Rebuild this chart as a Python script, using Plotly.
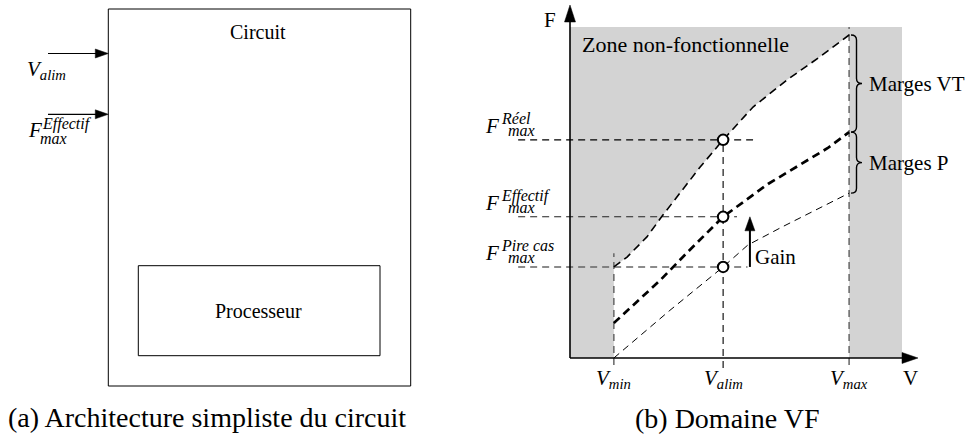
import plotly.graph_objects as go

W, H = 966, 435
SERIF = "Liberation Serif"

# ---------------- data: VF domain (arbitrary units) ----------------
V_NAMES = ["min", "alim", "max"]
V_VALUES = [1.26, 4.40, 8.02]
V_MIN, V_ALIM, V_MAX = V_VALUES

reel_V = [1.26, 1.64, 2.21, 2.67, 3.74, 4.40, 5.26, 6.24, 7.18, 8.02]
reel_F = [2.58, 2.86, 3.43, 4.05, 5.41, 6.18, 7.11, 7.88, 8.53, 9.15]
eff_V = [1.26, 2.59, 3.36, 4.40, 5.69, 6.55, 7.41, 8.02]
eff_F = [0.99, 2.20, 2.98, 4.00, 4.93, 5.44, 5.95, 6.40]
pire_V = [1.26, 2.87, 4.40, 5.11, 6.09, 7.04, 8.02]
pire_F = [0.00, 1.35, 2.58, 3.20, 3.71, 4.19, 4.67]

FMAX_NAMES = ["Réel", "Effectif", "Pire cas"]
FMAX_VALUES = [6.18, 4.00, 2.58]

AXIS_V_END, AXIS_F_END = 10.0, 10.0
ZONE_V_END, ZONE_F_END = 9.54, 9.38
GAIN_V = 5.17

# ---------------- layout helpers ----------------
OX, OY, SX, SY = 570, 358, 34.8, 35.3   # right panel origin (px) and px per unit


def px_x(v):
    return OX + v * SX


def px_y(f):
    return OY - f * SY


def P(x, y):
    return x / W, 1 - y / H


fig = go.Figure()
shapes = []
anns = []


def tri(tipx, tipy, dx, dy, L, hw):
    bx, by = tipx - dx * L, tipy - dy * L
    nx, ny = -dy, dx
    pts = [(tipx, tipy), (bx + nx * hw, by + ny * hw), (bx - nx * hw, by - ny * hw)]
    path = "M" + " L".join("%.5f,%.5f" % P(x, y) for x, y in pts) + " Z"
    shapes.append(dict(type="path", path=path, xref="paper", yref="paper",
                       fillcolor="black", line=dict(color="black", width=0.5), layer="above"))


def brace(x, y0, y1, w=5.5, r=5):
    ym = (y0 + y1) / 2
    seq = [("M", [(x, y0)]), ("Q", [(x + w, y0), (x + w, y0 + r)]), ("L", [(x + w, ym - r)]),
           ("Q", [(x + w, ym), (x + 2 * w, ym)]), ("Q", [(x + w, ym), (x + w, ym + r)]),
           ("L", [(x + w, y1 - r)]), ("Q", [(x + w, y1), (x, y1)])]
    path = " ".join(c + " ".join("%.5f,%.5f" % P(a, b) for a, b in pts) for c, pts in seq)
    shapes.append(dict(type="path", path=path, xref="paper", yref="paper",
                       line=dict(color="black", width=1.4), layer="above"))


def text(x, y, t, size, xanchor="left", color="black"):
    px_, py_ = P(x, y)
    anns.append(dict(x=px_, y=py_, xref="paper", yref="paper", text=t, showarrow=False,
                     xanchor=xanchor, yanchor="middle",
                     font=dict(family=SERIF, size=size, color=color)))


def rect(x0, y0, x1, y1):
    a, b = P(x0, y0)
    c, d = P(x1, y1)
    shapes.append(dict(type="rect", x0=a, y0=d, x1=c, y1=b, xref="paper", yref="paper",
                       line=dict(color="black", width=1)))


def hline_px(x0, x1, y, width=1.2):
    a, b = P(x0, y)
    c, _ = P(x1, y)
    shapes.append(dict(type="line", x0=a, y0=b, x1=c, y1=b, xref="paper", yref="paper",
                       line=dict(color="black", width=width)))


# ---------------- left panel: block diagram ----------------
rect(108.3, 9, 410.7, 386)
rect(138.3, 265.7, 380, 355.7)
text(258, 32, "Circuit", 20, "center")
text(258, 311, "Processeur", 20, "center")
for ya in (53.5, 114.3):
    hline_px(48, 100, ya)
    tri(108.3, ya, 1, 0, 13, 4.5)
text(25, 70, "<i>V</i><sub><i>alim</i></sub>", 21)
text(26, 130, "<i>F</i>", 21)
text(40, 124, "<i>Effectif</i>", 16)
text(38, 138, "<i>max</i>", 16)
text(207, 417, "(a) Architecture simpliste du circuit", 28, "center")

# ---------------- right panel: VF domain ----------------
shapes.append(dict(type="rect", xref="x", yref="y", x0=0, x1=ZONE_V_END, y0=0, y1=ZONE_F_END,
                   fillcolor="#d3d3d3", line=dict(width=0), layer="below"))

# functional (white) zone
fig.add_trace(go.Scatter(x=[V_MIN] + reel_V + [V_MAX], y=[0] + reel_F + [0], mode="lines",
                         fill="toself", fillcolor="white", line=dict(width=0), hoverinfo="skip"))

GUIDE_START = -1.49
guide_end = [5.26, 4.80, 5.10]
guide_col = ["black", "#222222", "#666666"]
guide_w = [1.1, 1.1, 1.5]
for f, xe, c, w in zip(FMAX_VALUES, guide_end, guide_col, guide_w):
    fig.add_trace(go.Scatter(x=[GUIDE_START, xe], y=[f, f], mode="lines",
                             line=dict(color=c, width=w, dash="7px,5px"), hoverinfo="skip"))

# vertical guides
fig.add_trace(go.Scatter(x=[V_MIN, V_MIN], y=[-0.2, 2.97], mode="lines",
                         line=dict(color="#666666", width=1.5, dash="7px,5px"), hoverinfo="skip"))
fig.add_trace(go.Scatter(x=[V_ALIM, V_ALIM], y=[-0.28, FMAX_VALUES[0]], mode="lines",
                         line=dict(color="black", width=1.1, dash="7px,5px"), hoverinfo="skip"))
fig.add_trace(go.Scatter(x=[V_MAX, V_MAX], y=[-0.2, ZONE_F_END], mode="lines",
                         line=dict(color="#666666", width=1.5, dash="7px,5px"), hoverinfo="skip"))

# curves
fig.add_trace(go.Scatter(x=reel_V, y=reel_F, mode="lines",
                         line=dict(color="black", width=1.6, dash="8px,5px"), hoverinfo="skip"))
fig.add_trace(go.Scatter(x=eff_V, y=eff_F, mode="lines",
                         line=dict(color="black", width=2.7, dash="8px,5px"), hoverinfo="skip"))
fig.add_trace(go.Scatter(x=pire_V, y=pire_F, mode="lines",
                         line=dict(color="black", width=1.0, dash="7px,5px"), hoverinfo="skip"))

# axes
fig.add_trace(go.Scatter(x=[0, AXIS_V_END - 0.3], y=[0, 0], mode="lines",
                         line=dict(color="black", width=1.6), hoverinfo="skip"))
fig.add_trace(go.Scatter(x=[0, 0], y=[0, AXIS_F_END - 0.3], mode="lines",
                         line=dict(color="black", width=1.6), hoverinfo="skip"))
tri(px_x(AXIS_V_END), px_y(0), 1, 0, 16, 5.5)
tri(px_x(0), px_y(AXIS_F_END), 0, -1, 17, 5.5)
text(px_x(0) - 20, px_y(AXIS_F_END) + 15, "F", 21, "center")
text(px_x(AXIS_V_END) - 8, px_y(0) + 20, "V", 21, "center")

# gain arrow
fig.add_trace(go.Scatter(x=[GAIN_V, GAIN_V], y=[FMAX_VALUES[2], FMAX_VALUES[1] - 0.3], mode="lines",
                         line=dict(color="black", width=2), hoverinfo="skip"))
tri(px_x(GAIN_V), px_y(FMAX_VALUES[1]), 0, -1, 14, 5)
text(px_x(GAIN_V) + 3, px_y(FMAX_VALUES[2]) - 10, "Gain", 21)

# operating points
fig.add_trace(go.Scatter(x=[V_ALIM] * 3, y=FMAX_VALUES, mode="markers",
                         marker=dict(size=10.5, color="white", line=dict(color="black", width=2)),
                         hoverinfo="skip"))

# tick labels
for name, v in zip(V_NAMES, V_VALUES):
    text(px_x(v), px_y(0) + 21, "<i>V</i><sub><i>%s</i></sub>" % name, 21, "center")

# Fmax labels
for name, f in zip(FMAX_NAMES, FMAX_VALUES):
    yc = px_y(f) - 14
    text(483, yc, "<i>F</i>", 21)
    text(499, yc - 7, "<i>%s</i>" % name, 16)
    text(506, yc + 5, "<i>max</i>", 16)

# braces
brace(851, px_y(reel_F[-1]), px_y(eff_F[-1]))
brace(851, px_y(eff_F[-1]), px_y(pire_F[-1]))
text(867, (px_y(reel_F[-1]) + px_y(eff_F[-1])) / 2, "Marges VT", 21)
text(867, (px_y(eff_F[-1]) + px_y(pire_F[-1])) / 2, "Marges P", 21)

text(580, 45, "Zone non-fonctionnelle", 22)
text(727, 418, "(b) Domaine VF", 28, "center")

fig.update_layout(
    width=W, height=H, margin=dict(l=0, r=0, t=0, b=0),
    paper_bgcolor="white", plot_bgcolor="rgba(0,0,0,0)", showlegend=False, hovermode=False,
    xaxis=dict(domain=[470 / W, 1], range=[(470 - OX) / SX, (W - OX) / SX], visible=False),
    yaxis=dict(domain=[0, 1], range=[(OY - H) / SY, OY / SY], visible=False),
    shapes=shapes, annotations=anns,
)
fig.write_html("out.html", config={"displayModeBar": False},
               post_script="document.body.style.margin='0';document.body.style.overflow='hidden';")
